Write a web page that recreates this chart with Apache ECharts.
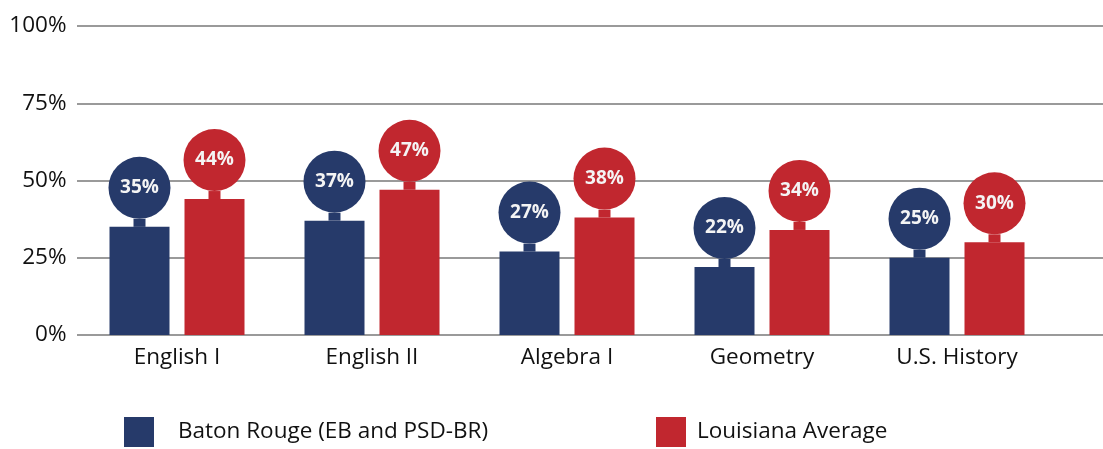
<!DOCTYPE html>
<html>
<head>
<meta charset="utf-8">
<script src="https://cdn.jsdelivr.net/npm/echarts@6/dist/echarts.min.js"></script>
<style>
  html, body { margin: 0; padding: 0; background: #fff; }
  #chart { width: 1103px; height: 449px; }
</style>
</head>
<body>
<div id="chart"></div>
<script>
const subjects = ["English I", "English II", "Algebra I", "Geometry", "U.S. History"];
const batonRouge = [35, 37, 27, 22, 25];
const louisiana = [44, 47, 38, 34, 30];
const yTicks = [0, 25, 50, 75, 100];

const NAVY = "#263a6a";
const RED = "#c1272f";
const FONT = "Open Sans";

// round value bubble sitting on a short stem above each bar
const bubbleLabel = (color) => ({
  show: true,
  position: "top",
  distance: 0,
  formatter: (p) => `{c|${p.value}%}\n{s| }`,
  rich: {
    c: {
      width: 62,
      height: 62,
      lineHeight: 62,
      borderRadius: 31,
      backgroundColor: color,
      color: "#f4f4f4",
      fontFamily: FONT,
      fontWeight: "bold",
      fontSize: 19,
      align: "center"
    },
    s: {
      width: 12,
      height: 8,
      lineHeight: 8,
      fontSize: 1,
      backgroundColor: color,
      align: "center"
    }
  }
});

const legendText = (gap) => ({ fontFamily: FONT, fontSize: 22.5, color: "#111", padding: [0, 0, 0, gap] });

const chart = echarts.init(document.getElementById("chart"), null, { renderer: "canvas" });
chart.setOption({
  animation: false,
  backgroundColor: "#fff",
  legend: [
    {
      left: 124,
      top: 417,
      padding: 0,
      itemWidth: 30,
      itemHeight: 30,
      icon: "rect",
      data: ["Baton Rouge (EB and PSD-BR)"],
      textStyle: legendText(19)
    },
    {
      left: 656,
      top: 417,
      padding: 0,
      itemWidth: 30,
      itemHeight: 30,
      icon: "rect",
      data: ["Louisiana Average"],
      textStyle: legendText(6)
    }
  ],
  grid: [
    { left: 79.5, right: 48.5, top: 26, bottom: 114 },
    { left: 77, right: 0, top: 26, bottom: 114 }
  ],
  xAxis: [
    {
      type: "category",
      gridIndex: 0,
      data: subjects,
      axisLine: { show: false },
      axisTick: { show: false },
      axisLabel: { fontFamily: FONT, fontSize: 22.5, color: "#111", margin: 11 }
    },
    { type: "value", gridIndex: 1, show: false, min: 0, max: 1 }
  ],
  yAxis: [
    {
      type: "value",
      gridIndex: 0,
      min: 0,
      max: 100,
      interval: 25,
      axisLine: { show: false },
      axisTick: { show: false },
      splitLine: { show: false },
      axisLabel: {
        fontFamily: FONT,
        fontSize: 22.5,
        color: "#111",
        margin: 13,
        formatter: (v) => (yTicks.includes(v) ? `${v}%` : "")
      }
    },
    {
      type: "value",
      gridIndex: 1,
      min: 0,
      max: 100,
      interval: 25,
      axisLine: { show: false },
      axisTick: { show: false },
      axisLabel: { show: false },
      splitLine: { lineStyle: { color: "#9a9a9a", width: 2 } }
    }
  ],
  series: [
    {
      name: "Baton Rouge (EB and PSD-BR)",
      type: "bar",
      xAxisIndex: 0,
      yAxisIndex: 0,
      barWidth: 60,
      barGap: "25%",
      itemStyle: { color: NAVY },
      label: bubbleLabel(NAVY),
      data: batonRouge,
      z: 3
    },
    {
      name: "Louisiana Average",
      type: "bar",
      xAxisIndex: 0,
      yAxisIndex: 0,
      barWidth: 60,
      barGap: "25%",
      itemStyle: { color: RED },
      label: bubbleLabel(RED),
      data: louisiana,
      z: 3
    }
  ]
});
</script>
</body>
</html>
